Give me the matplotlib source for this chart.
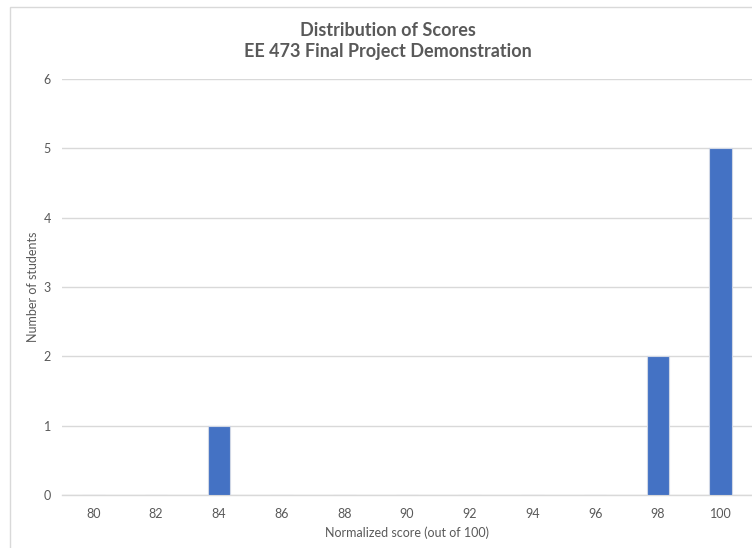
import matplotlib
matplotlib.use("Agg")
import matplotlib.pyplot as plt
from matplotlib.patches import Rectangle

# Score bins and the number of students in each bin
scores = ["80", "82", "84", "86", "88", "90", "92", "94", "96", "98", "100"]
counts = [0, 0, 1, 0, 0, 0, 0, 0, 0, 2, 5]
y_ticks = [0, 1, 2, 3, 4, 5, 6]

title_lines = ["Distribution of Scores", "EE 473 Final Project Demonstration"]
x_label = "Normalized score (out of 100)"
y_label = "Number of students"

plt.rcParams["font.family"] = ["Lato", "DejaVu Sans"]

W, H = 752, 548
fig = plt.figure(figsize=(W / 100, H / 100), dpi=100)
fig.patch.set_facecolor("white")

# Chart frame (extends past the right and bottom edges)
fig.add_artist(Rectangle((10 / W, -0.05), 1.2, (H - 7) / H + 0.05,
                         transform=fig.transFigure, facecolor="none",
                         edgecolor="#d9d9d9", linewidth=1.0))

ax = fig.add_axes([62 / W, 53 / H, (W - 62) / W, (495 - 79) / H])
positions = list(range(len(scores)))
ax.bar(positions, counts, width=0.36, color="#4472C4",
       edgecolor="#d0d7e5", linewidth=0.8, zorder=3)

ax.set_xlim(-0.5, len(scores) - 0.5)
ax.set_ylim(0, 6)
ax.set_xticks(positions)
ax.set_xticklabels(scores)
ax.set_yticks(y_ticks)
ax.grid(axis="y", color="#d9d9d9", linewidth=1.0, zorder=0)
ax.set_axisbelow(True)
for side in ("top", "right", "left"):
    ax.spines[side].set_visible(False)
ax.spines["bottom"].set_color("#d9d9d9")
ax.spines["bottom"].set_linewidth(1.0)
ax.tick_params(axis="both", length=0, colors="#595959", labelsize=9)
ax.tick_params(axis="x", pad=9)
ax.tick_params(axis="y", pad=8)

ax.set_xlabel(x_label, fontsize=9, color="#595959", labelpad=5)
ax.set_ylabel(y_label, fontsize=9, color="#595959", labelpad=3)

fig.text(388 / W, 1 - 30 / H, title_lines[0], ha="center", va="center",
         fontsize=13, fontweight="bold", color="#595959")
fig.text(388 / W, 1 - 52 / H, title_lines[1], ha="center", va="center",
         fontsize=13, fontweight="bold", color="#595959")

fig.savefig("out.png", dpi=100, facecolor="white")
